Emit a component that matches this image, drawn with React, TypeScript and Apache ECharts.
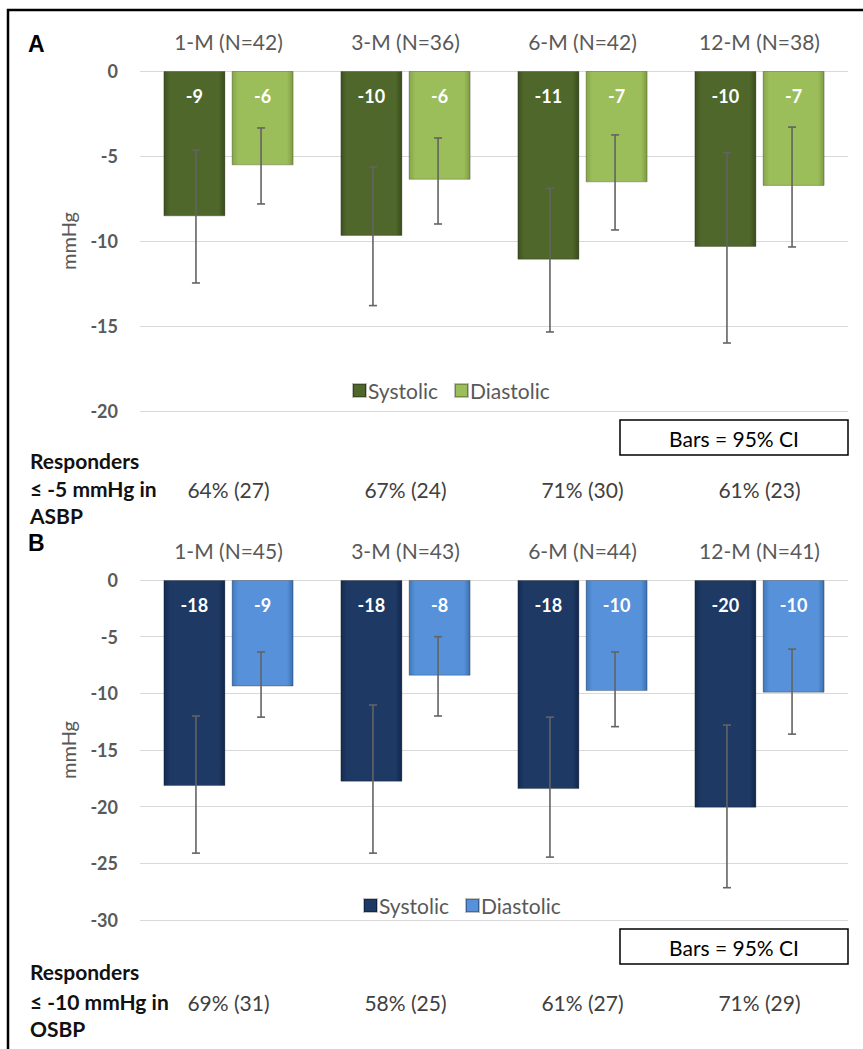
import React, { useEffect, useRef } from "react";
import * as echarts from "echarts";

// ---------- DATA ----------
const categoriesA = ["1-M (N=42)", "3-M (N=36)", "6-M (N=42)", "12-M (N=38)"];
const systolicA = [-8.55, -9.7, -11.1, -10.35];
const diastolicA = [-5.55, -6.4, -6.55, -6.76];
const sysUpperA = [-4.65, -5.65, -6.9, -4.8];
const sysLowerA = [-12.47, -13.8, -15.35, -16.0];
const diaUpperA = [-3.35, -3.94, -3.76, -3.3];
const diaLowerA = [-7.82, -9.0, -9.35, -10.35];
const respPctA = [64, 67, 71, 61];
const respNA = [27, 24, 30, 23];

const categoriesB = ["1-M (N=45)", "3-M (N=43)", "6-M (N=44)", "12-M (N=41)"];
const systolicB = [-18.18, -17.8, -18.45, -20.1];
const diastolicB = [-9.4, -8.45, -9.8, -9.94];
const sysUpperB = [-12.0, -11.03, -12.1, -12.8];
const sysLowerB = [-24.1, -24.1, -24.45, -27.15];
const diaUpperB = [-6.35, -5.0, -6.35, -6.1];
const diaLowerB = [-12.1, -12.0, -12.94, -13.6];
const respPctB = [69, 58, 61, 71];
const respNB = [31, 25, 27, 29];

const yTicksA = { min: -20, max: 0, interval: 5 };
const yTicksB = { min: -30, max: 0, interval: 5 };

// ---------- STYLE ----------
const FONT = "Lato, 'Open Sans', sans-serif";
const GRAY = "#595959";
const BAR_W = 62;
const OFFSET = (BAR_W * 2 + BAR_W * 0.1) / 4;

function bevel(edgeL: string, main: string, edgeR: string) {
  return new echarts.graphic.LinearGradient(0, 0, 1, 0, [
    { offset: 0, color: edgeL },
    { offset: 0.1, color: main },
    { offset: 0.9, color: main },
    { offset: 1, color: edgeR },
  ]);
}

const colSysA = bevel("#3e5120", "#4f672a", "#394a1b");
const colDiaA = bevel("#86a548", "#9bbd5a", "#7e9b42");
const colSysB = bevel("#132b50", "#1d3964", "#11264a");
const colDiaB = bevel("#4178bb", "#5691d9", "#3c70b0");

function errorSeries(name: string, xIdx: number, yIdx: number, upper: number[], lower: number[], sign: number) {
  return {
    type: "custom",
    name,
    xAxisIndex: xIdx,
    yAxisIndex: yIdx,
    z: 10,
    silent: true,
    encode: { x: 0, y: [1, 2] },
    data: upper.map((u, i) => [i, u, lower[i]]),
    renderItem: (params: any, api: any) => {
      const idx = api.value(0);
      const top = api.coord([idx, api.value(1)]);
      const bot = api.coord([idx, api.value(2)]);
      const x = top[0] + sign * OFFSET;
      const style = { stroke: "#636363", lineWidth: 1.6 };
      return {
        type: "group",
        children: [
          { type: "line", shape: { x1: x, y1: top[1], x2: x, y2: bot[1] }, style },
          { type: "line", shape: { x1: x - 4, y1: top[1], x2: x + 4, y2: top[1] }, style },
          { type: "line", shape: { x1: x - 4, y1: bot[1], x2: x + 4, y2: bot[1] }, style },
        ],
      };
    },
  };
}

function barSeries(name: string, xIdx: number, yIdx: number, data: number[], color: any) {
  return {
    type: "bar",
    name,
    xAxisIndex: xIdx,
    yAxisIndex: yIdx,
    barWidth: BAR_W,
    barGap: "10%",
    data,
    itemStyle: { color, borderColor: "rgba(0,0,0,0.25)", borderWidth: 1 },
    label: {
      show: true,
      position: "insideTop",
      distance: 16,
      color: "#ffffff",
      fontFamily: FONT,
      fontWeight: "bold",
      fontSize: 18,
      formatter: (p: any) => String(Math.round(p.value)),
    },
  };
}

function topAxis(gridIndex: number, data: string[], margin: number) {
  return {
    type: "category",
    gridIndex,
    position: "top",
    data,
    axisLine: { show: false },
    axisTick: { show: false },
    axisLabel: { color: GRAY, fontFamily: FONT, fontSize: 21, margin },
  };
}

function bottomAxis(gridIndex: number, pct: number[], n: number[], margin: number) {
  return {
    type: "category",
    gridIndex,
    position: "bottom",
    data: pct.map((p, i) => `${p}% (${n[i]})`),
    axisLine: { show: false },
    axisTick: { show: false },
    axisLabel: { color: "#404040", fontFamily: FONT, fontSize: 21, margin },
  };
}

function valueAxis(gridIndex: number, t: { min: number; max: number; interval: number }) {
  return {
    type: "value",
    gridIndex,
    min: t.min,
    max: t.max,
    interval: t.interval,
    name: "mmHg",
    nameLocation: "middle",
    nameRotate: 90,
    nameGap: 62,
    nameTextStyle: { color: GRAY, fontFamily: FONT, fontSize: 20 },
    axisLine: { show: false },
    axisTick: { show: false },
    axisLabel: { color: GRAY, fontFamily: FONT, fontSize: 18, fontWeight: "bold", margin: 22 },
    splitLine: { lineStyle: { color: "#d9d9d9", width: 1 } },
  };
}

function legend(left: number, top: number, names: string[]) {
  return {
    left,
    top,
    orient: "horizontal",
    data: names,
    icon: "rect",
    itemWidth: 13,
    itemHeight: 13,
    itemGap: 16,
    selectedMode: false,
    formatter: (n: string) => n.replace(" B", ""),
    textStyle: { color: GRAY, fontFamily: FONT, fontSize: 21, padding: [0, 0, 0, -3] },
  };
}

function respText(x: number, ys: number[], lines: string[]) {
  return lines.map((t, i) => ({
    type: "text",
    left: x,
    top: ys[i] - 12,
    style: { text: t, fill: "#111", font: `bold 21px ${FONT}` },
  }));
}

function ciBox(x: number, y: number) {
  return [
    {
      type: "rect",
      shape: { x, y, width: 228, height: 35 },
      style: { fill: "#fff", stroke: "#000", lineWidth: 1.5 },
    },
    {
      type: "text",
      x: x + 114,
      y: y + 18,
      style: { text: "Bars = 95% CI", fill: "#000", font: `21px ${FONT}`, align: "center", verticalAlign: "middle" },
    },
  ];
}

export default function App() {
  const ref = useRef<HTMLDivElement>(null);
  useEffect(() => {
    if (!ref.current) return;
    const chart = echarts.init(ref.current, null, { renderer: "svg" });
    const option: any = {
      animation: false,
      backgroundColor: "#ffffff",
      grid: [
        { left: 140, top: 71, width: 708, height: 340 },
        { left: 140, top: 580, width: 708, height: 340 },
      ],
      xAxis: [
        topAxis(0, categoriesA, 19),
        bottomAxis(0, respPctA, respNA, 68),
        topAxis(1, categoriesB, 19),
        bottomAxis(1, respPctB, respNB, 72),
      ],
      yAxis: [valueAxis(0, yTicksA), valueAxis(1, yTicksB)],
      legend: [legend(347, 375, ["Systolic", "Diastolic"]), legend(358, 890, ["Systolic B", "Diastolic B"])],
      series: [
        barSeries("Systolic", 0, 0, systolicA, colSysA),
        barSeries("Diastolic", 0, 0, diastolicA, colDiaA),
        errorSeries("Systolic CI A", 0, 0, sysUpperA, sysLowerA, -1),
        errorSeries("Diastolic CI A", 0, 0, diaUpperA, diaLowerA, 1),
        barSeries("Systolic B", 2, 1, systolicB, colSysB),
        barSeries("Diastolic B", 2, 1, diastolicB, colDiaB),
        errorSeries("Systolic CI B", 2, 1, sysUpperB, sysLowerB, -1),
        errorSeries("Diastolic CI B", 2, 1, diaUpperB, diaLowerB, 1),
      ],
      graphic: [
        {
          type: "rect",
          shape: { x: 8, y: 10, width: 870, height: 1060 },
          style: { fill: "none", stroke: "#000", lineWidth: 2.5 },
          silent: true,
        },
        { type: "text", left: 28, top: 32, style: { text: "A", fill: "#000", font: "bold 23px 'Liberation Sans', Arial, sans-serif" } },
        { type: "text", left: 28, top: 531, style: { text: "B", fill: "#000", font: "bold 23px 'Liberation Sans', Arial, sans-serif" } },
        ...ciBox(620, 420),
        ...ciBox(620, 929),
        ...respText(30, [462, 490, 517], ["Responders", "≤ -5 mmHg in", "ASBP"]),
        ...respText(30, [973, 1003, 1030], ["Responders", "≤ -10 mmHg in", "OSBP"]),
      ],
    };
    chart.setOption(option);
    return () => chart.dispose();
  }, []);
  return (
    <div
      ref={ref}
      style={{ position: "absolute", left: 0, top: 0, width: 863, height: 1049, background: "#fff" }}
    />
  );
}
